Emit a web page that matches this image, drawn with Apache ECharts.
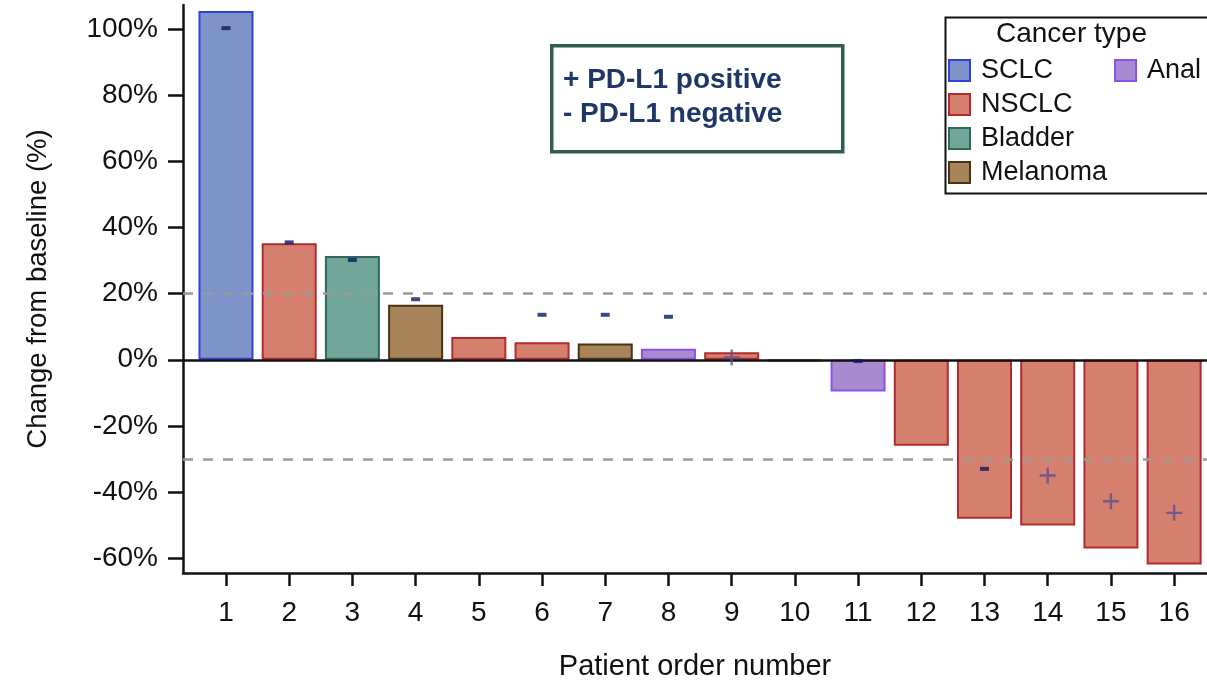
<!DOCTYPE html>
<html>
<head>
<meta charset="utf-8">
<script src="https://cdn.jsdelivr.net/npm/echarts@6/dist/echarts.min.js"></script>
<style>
html,body{margin:0;padding:0;background:#fff;}
#chart{width:1207px;height:686px;}
</style>
</head>
<body>
<div id="chart"></div>
<script>
// ---- data ----
const patients = [1,2,3,4,5,6,7,8,9,10,11,12,13,14,15,16];
const cancerTypes = ['SCLC','NSCLC','Bladder','Melanoma','Anal'];
const patientType = ['SCLC','NSCLC','Bladder','Melanoma','NSCLC','NSCLC','Melanoma','Anal','NSCLC','Melanoma','Anal','NSCLC','NSCLC','NSCLC','NSCLC','NSCLC'];
const changePct = [105.5,35.2,31.4,16.6,6.9,5.3,4.9,3.3,2.3,-0.4,-9.6,-26.0,-48.1,-50.1,-57.1,-61.9];
const pdl1Status = ['-','-','-','-','','-','-','-','+','','-','','-','+','+','+'];
const pdl1MarkY = [100.3,35.5,30.2,18.3,null,13.6,13.6,13.0,0.7,null,-0.4,null,-33.0,-35.0,-42.8,-46.3];
const yTicks = [-60,-40,-20,0,20,40,60,80,100];
const refLines = [20,-30];
const annotationLines = ['+ PD-L1 positive','- PD-L1 negative'];
const legendTitle = 'Cancer type';

// ---- styles ----
const FONT = '"Liberation Sans", Arial, Helvetica, sans-serif';
const typeStyle = {
  SCLC:     {color:'#7e93c8', borderColor:'#3040dc'},
  NSCLC:    {color:'#d5806f', borderColor:'#b42a30'},
  Bladder:  {color:'#73a69b', borderColor:'#2e6a5c'},
  Melanoma: {color:'#a8845b', borderColor:'#4a3214'},
  Anal:     {color:'#a98ad0', borderColor:'#8c52e6'}
};

const barSeries = cancerTypes.map(t => ({
  name: t,
  type: 'bar',
  barWidth: 55,
  barGap: '-100%',
  z: 3,
  itemStyle: Object.assign({borderWidth: 2}, typeStyle[t]),
  data: patients.map((p,i) => patientType[i] === t ? [p, changePct[i]] : null).filter(d => d)
}));

const negData = [], posData = [];
patients.forEach((p,i) => {
  if (pdl1Status[i] === '-') negData.push([p, pdl1MarkY[i]]);
  else if (pdl1Status[i] === '+') posData.push([p, pdl1MarkY[i]]);
});

const plusPath = 'path://M5.1,0 L6.9,0 L6.9,5.1 L12,5.1 L12,6.9 L6.9,6.9 L6.9,12 L5.1,12 L5.1,6.9 L0,6.9 L0,5.1 L5.1,5.1 Z';

const chart = echarts.init(document.getElementById('chart'), null, {renderer:'canvas'});
chart.setOption({
  animation: false,
  backgroundColor: '#fff',
  textStyle: {fontFamily: FONT},
  grid: {left: 183, right: 0, top: 5, bottom: 111, containLabel: false},
  xAxis: {
    type: 'value', min: 0.32, max: 16.52,
    name: 'Patient order number', nameLocation: 'middle', nameGap: 79,
    nameTextStyle: {fontSize: 29, color: '#111', fontFamily: FONT},
    splitLine: {show: false},
    axisLine: {show: true, onZero: false, lineStyle: {color: '#111', width: 2.5}},
    axisTick: {show: true, customValues: patients, length: 13, lineStyle: {color: '#111', width: 2.5}},
    axisLabel: {customValues: patients, margin: 26, fontSize: 28, color: '#111', fontFamily: FONT}
  },
  yAxis: {
    type: 'value', min: -64.5, max: 107.3,
    name: 'Change from baseline (%)', nameLocation: 'middle', nameGap: 131,
    nameTextStyle: {fontSize: 27.5, color: '#111', fontFamily: FONT},
    splitLine: {show: false},
    axisLine: {show: true, lineStyle: {color: '#111', width: 2.5}},
    axisTick: {show: true, customValues: yTicks, length: 15, lineStyle: {color: '#111', width: 2.5}},
    axisLabel: {customValues: yTicks, margin: 25, fontSize: 28, color: '#111', fontFamily: FONT,
      formatter: v => v + '%'}
  },
  legend: {
    data: cancerTypes,
    orient: 'vertical',
    left: 948, top: 57, height: 140,
    padding: 0,
    itemWidth: 21, itemHeight: 21, itemGap: 7,
    icon: 'rect',
    selectedMode: false,
    textStyle: {fontSize: 27, color: '#111', fontFamily: FONT, padding: [0,0,0,6]}
  },
  graphic: [
    {type: 'rect', left: 943, top: 15, shape: {width: 270, height: 176},
     style: {fill: 'none', stroke: '#111', lineWidth: 2}, z: 1},
    {type: 'text', left: 996, top: 20,
     style: {text: legendTitle, font: '28px ' + FONT, fill: '#111'}, z: 10},
    {type: 'rect', left: 550, top: 44, shape: {width: 291, height: 106},
     style: {fill: '#fff', stroke: '#2f5e4b', lineWidth: 3.5}, z: 10},
    {type: 'text', left: 563, top: 63,
     style: {text: annotationLines.join('\n'), font: 'bold 28px ' + FONT, fill: '#1f3766', lineHeight: 34}, z: 11}
  ],
  series: [
    {type: 'line', data: [], silent: true, z: 1,
     markLine: {silent: true, symbol: 'none', label: {show: false},
       lineStyle: {color: '#999', width: 2.5, type: [10,10]},
       data: refLines.map(v => ({yAxis: v}))}},
    ...barSeries,
    {type: 'line', data: [], silent: true, z: 6,
     markLine: {silent: true, symbol: 'none', label: {show: false},
       lineStyle: {color: '#111', width: 2.5, type: 'solid'},
       data: [{yAxis: 0}]}},
    {name: 'PD-L1 negative', type: 'scatter', z: 8, silent: true,
     symbol: 'rect', symbolSize: [9, 4], itemStyle: {color: '#0d1a5e'}, data: negData},
    {name: 'PD-L1 positive', type: 'scatter', z: 8, silent: true,
     symbol: plusPath, symbolSize: 16, itemStyle: {color: '#5e4f8c'}, data: posData}
  ]
});
</script>
</body>
</html>
